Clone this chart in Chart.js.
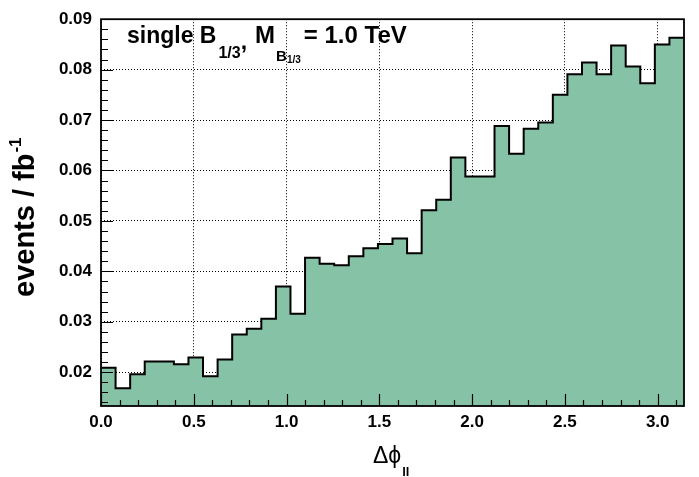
<!DOCTYPE html>
<html lang="en">
<head>
  <meta charset="UTF-8">
  <title>single B1/3 - delta phi ll</title>
  <script src="https://cdn.jsdelivr.net/npm/chart.js"></script>
  <style>
    body {
      margin: 0;
      background: #ffffff;
    }
    canvas {
      display: block;
    }
  </style>
</head>
<body>

  <canvas id="dphiChart" width="699" height="477"></canvas>

  <script>
    // histogram contents, 40 bins from 0 to pi
    const binValues = [
      0.0209, 0.0168, 0.0196, 0.0221, 0.0221, 0.0216, 0.0229, 0.0192, 0.0225, 0.0275,
      0.0286, 0.0306, 0.0370, 0.0316, 0.0427, 0.0415, 0.0412, 0.0430, 0.0446, 0.0454,
      0.0465, 0.0436, 0.0521, 0.0542, 0.0626, 0.0588, 0.0588, 0.0688, 0.0633, 0.0683,
      0.0695, 0.0750, 0.0791, 0.0814, 0.0791, 0.0848, 0.0806, 0.0773, 0.0850, 0.0863
    ];
    const xMin = 0;
    const xMax = Math.PI;
    const yMin = 0.0133;
    const yMax = 0.09;
    const xMajorTicks = [0.0, 0.5, 1.0, 1.5, 2.0, 2.5, 3.0];
    const yMajorTicks = [0.02, 0.03, 0.04, 0.05, 0.06, 0.07, 0.08, 0.09];
    const xMinorStep = 0.1;
    const yMinorStep = 0.002;

    // step outline: one point per lower bin edge, plus the upper edge of the last bin
    const binWidth = (xMax - xMin) / binValues.length;
    const histPoints = binValues.map((v, i) => ({ x: xMin + i * binWidth, y: v }));
    histPoints.push({ x: xMax, y: binValues[binValues.length - 1] });

    const FONT = '"Liberation Sans", Arial, Helvetica, sans-serif';

    // draws inward ROOT style ticks, the frame and the latex-like labels
    const rootStyle = {
      id: 'rootStyle',
      afterDatasetsDraw(chart) {
        const { ctx, chartArea: a, scales } = chart;
        const xs = scales.x, ys = scales.y;
        ctx.save();
        ctx.strokeStyle = '#000';
        ctx.lineWidth = 1.2;

        // x ticks
        ctx.beginPath();
        for (let v = xMin; v <= xMax + 1e-9; v += xMinorStep) {
          const major = Math.abs(v * 2 - Math.round(v * 2)) < 1e-6;
          const px = Math.round(xs.getPixelForValue(v)) + 0.5;
          ctx.moveTo(px, a.bottom);
          ctx.lineTo(px, a.bottom - (major ? 12 : 6));
        }
        // y ticks
        for (let v = 0.014; v <= yMax + 1e-9; v += yMinorStep) {
          const major = Math.abs(v * 100 - Math.round(v * 100)) < 1e-6;
          const py = Math.round(ys.getPixelForValue(v)) + 0.5;
          ctx.moveTo(a.left, py);
          ctx.lineTo(a.left + (major ? 12 : 7), py);
        }
        ctx.stroke();

        // frame
        ctx.lineWidth = 1.8;
        ctx.strokeRect(a.left, a.top, a.right - a.left, a.bottom - a.top);
        ctx.restore();
      },
      afterDraw(chart) {
        const { ctx } = chart;
        ctx.save();
        ctx.fillStyle = '#000';
        ctx.textAlign = 'left';
        ctx.textBaseline = 'alphabetic';

        // plot label: single B_{1/3}, M_{B_{1/3}} = 1.0 TeV
        let x = 127;
        const put = (txt, size, bold, base, gap) => {
          ctx.font = (bold ? 'bold ' : '') + size + 'px ' + FONT;
          ctx.fillText(txt, x, base);
          x += ctx.measureText(txt).width + (gap || 0);
        };
        put('single B', 23, true, 43, 2);
        put('1/3', 16, true, 58, 0);
        put(',', 23, true, 49, 8);
        put('M', 24, true, 43, 1);
        put('B', 15, true, 61, 0);
        put('1/3', 10, true, 63, 3);
        put('= 1.0 TeV', 24, true, 43, 0);

        // x axis title
        x = 373;
        put('\u0394\u03d5', 23, false, 463, 1);
        put('ll', 13, true, 476, 0);

        // y axis title, rotated, reading bottom to top
        ctx.translate(34, 297);
        ctx.rotate(-Math.PI / 2);
        x = 0;
        put('events / fb', 29, true, 0, 1);
        put('-1', 17, true, -13, 0);
        ctx.restore();
      }
    };

    const ctx = document.getElementById('dphiChart').getContext('2d');
    new Chart(ctx, {
      type: 'line',
      data: {
        datasets: [{
          data: histPoints,
          stepped: 'before',
          borderColor: '#000',
          borderWidth: 2,
          backgroundColor: '#86c2a5',
          fill: 'start',
          pointRadius: 0,
          tension: 0
        }]
      },
      options: {
        responsive: false,
        animation: false,
        devicePixelRatio: 1,
        layout: { padding: { left: 0, top: 12, right: 15, bottom: 0 } },
        plugins: {
          legend: { display: false },
          tooltip: { enabled: false }
        },
        scales: {
          x: {
            type: 'linear',
            min: xMin,
            max: xMax,
            afterBuildTicks: (s) => { s.ticks = xMajorTicks.map(v => ({ value: v })); },
            afterFit: (s) => { s.height = 71; },
            ticks: {
              autoSkip: false,
              maxRotation: 0,
              padding: 6,
              color: '#000',
              font: { family: FONT, size: 17, weight: 'bold' },
              callback: (v) => v.toFixed(1)
            },
            grid: { color: '#000', lineWidth: 1, drawTicks: false },
            border: { display: false, dash: [1, 2] }
          },
          y: {
            type: 'linear',
            min: yMin,
            max: yMax,
            afterBuildTicks: (s) => { s.ticks = yMajorTicks.map(v => ({ value: v })); },
            afterFit: (s) => { s.width = 101; },
            ticks: {
              autoSkip: false,
              padding: 9,
              color: '#000',
              font: { family: FONT, size: 17, weight: 'bold' },
              callback: (v) => v.toFixed(2)
            },
            grid: { color: '#000', lineWidth: 1, drawTicks: false },
            border: { display: false, dash: [1, 2] }
          }
        }
      },
      plugins: [rootStyle]
    });
  </script>

</body>
</html>
